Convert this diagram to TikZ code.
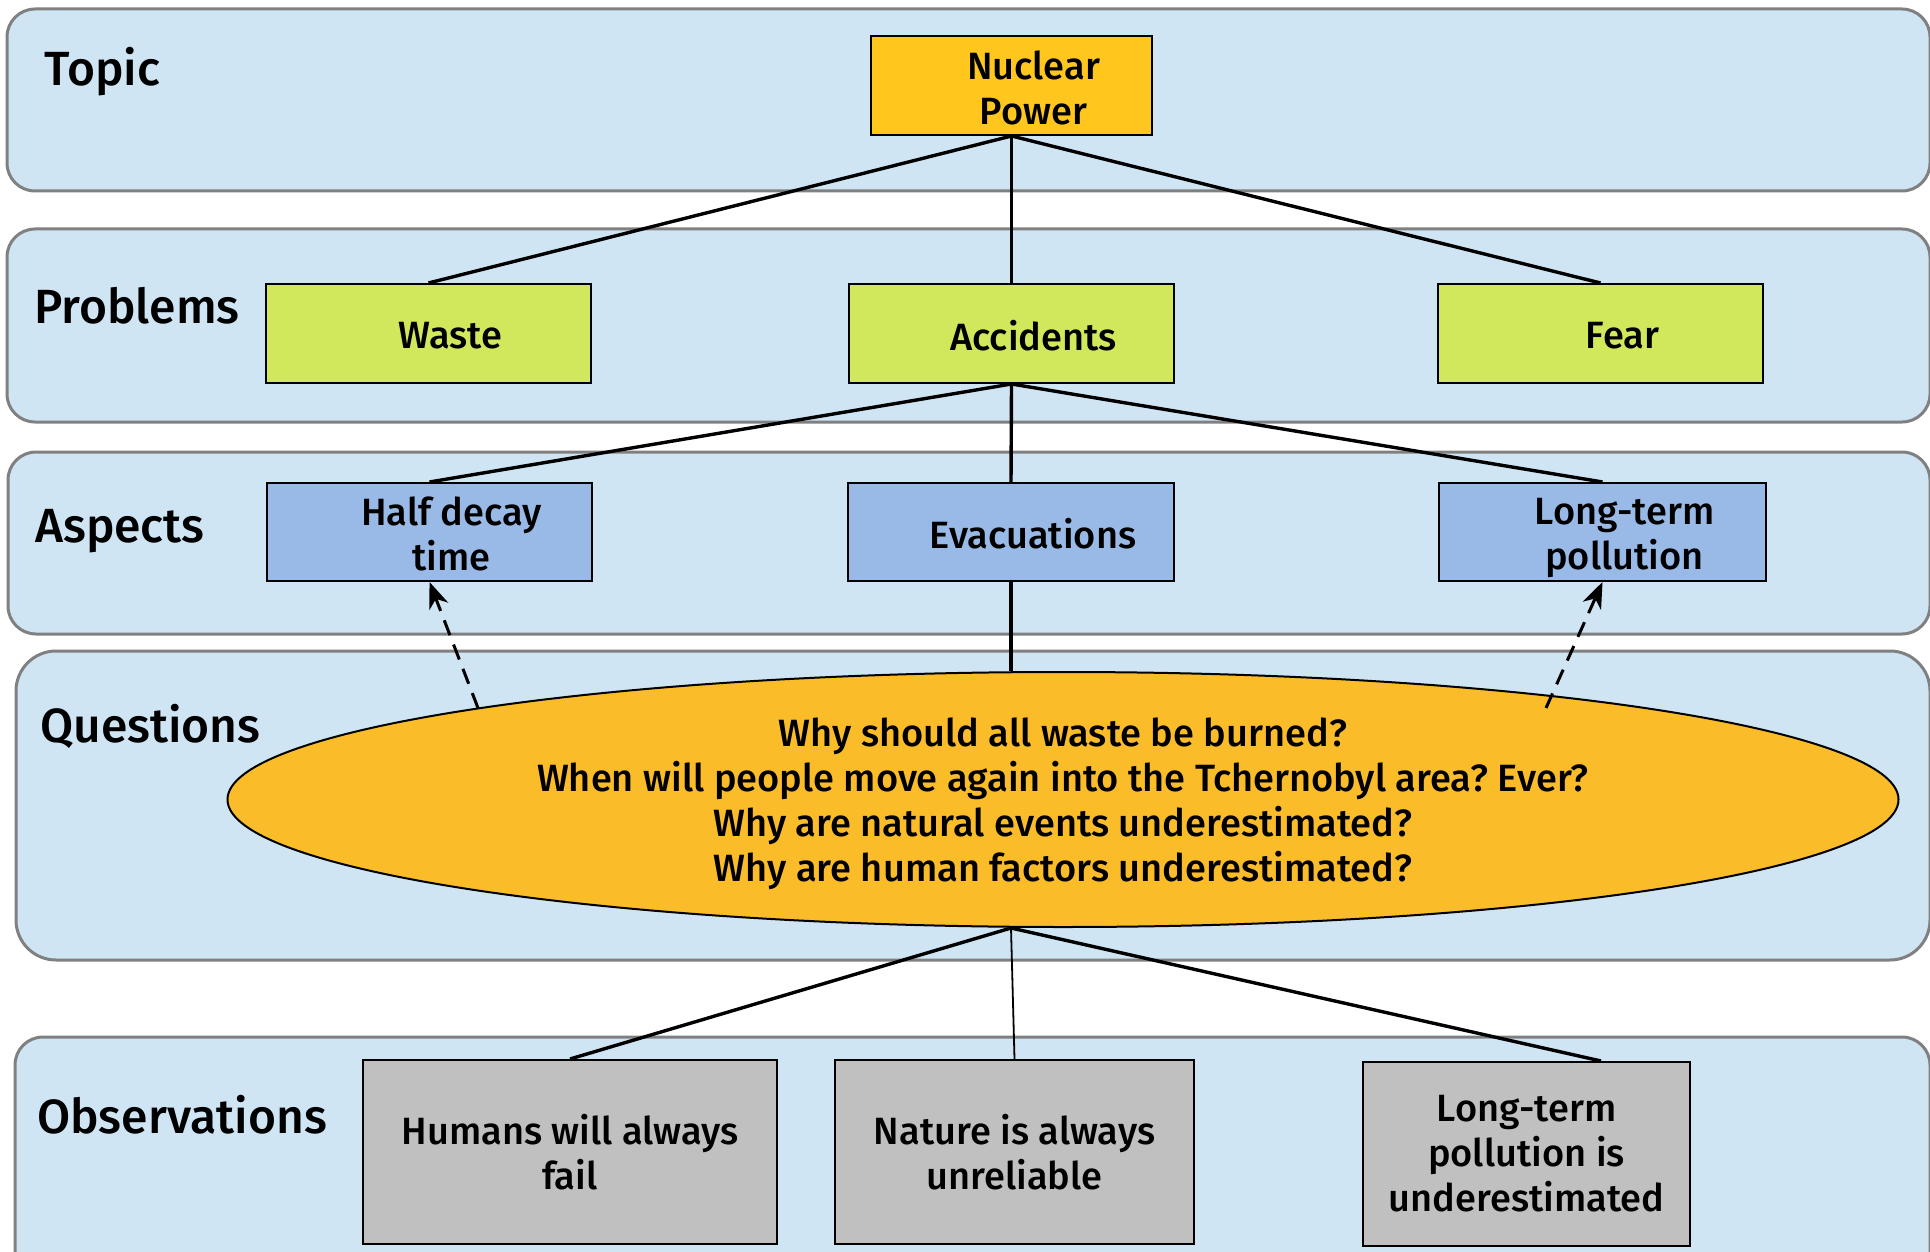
\documentclass[tikz,border=0pt]{standalone}
\usepackage{fontspec}
\setmainfont{Fira Sans}[UprightFont=* Medium]
\usetikzlibrary{arrows.meta,shapes.geometric,calc}

\definecolor{bandfill}{HTML}{CFE5F3}
\definecolor{bandline}{HTML}{808080}
\definecolor{topicfill}{HTML}{FFC71E}
\definecolor{probfill}{HTML}{D2E85C}
\definecolor{aspfill}{HTML}{99B9E7}
\definecolor{questfill}{HTML}{FBBC2A}
\definecolor{obsfill}{HTML}{C0C0C0}

\frenchspacing
\begin{document}
\begin{tikzpicture}[x=1pt,y=-1pt,
  band/.style={draw=bandline, fill=bandfill, line width=3pt, rounded corners=28pt},
  rowlabel/.style={anchor=base west, font=\fontsize{48}{56}\selectfont, inner sep=0pt},
  boxtext/.style={font=\fontsize{38}{45}\selectfont, align=center},
  box/.style={draw=black, line width=2pt, minimum width=325pt, minimum height=99pt, inner sep=0pt},
  shifted/.style={label={[boxtext, xshift=22pt, yshift=-2pt]center:{#1}}},
  shifteddeep/.style={label={[boxtext, xshift=22pt, yshift=-6pt]center:{#1}}},
  link/.style={line width=3.4pt},
  hint/.style={line width=3pt, dash pattern=on 16pt off 10pt,
    -{Stealth[length=26pt,width=20pt,inset=8pt]}}
]
\useasboundingbox (0,0) rectangle (1930,1252);
\clip (0,0) rectangle (1930,1252);

% layer bands
\draw[band] (7,9) rectangle (1930,191);
\draw[band] (7,229) rectangle (1930,422);
\draw[band] (8,452) rectangle (1930,634);
\draw[band, rounded corners=40pt] (16,651) rectangle (1930,960);
\draw[band] (15,1037) rectangle (1930,1290);

% layer names
\node[rowlabel] (lt) at (44,86) {Topic};
\node[rowlabel] (lp) at (34,323) {Problems};
\node[rowlabel] (la) at (35,542) {Aspects};
\node[rowlabel] (lq) at (40,742) {Questions};
\node[rowlabel] (lo) at (37,1133) {Observations};

% topic
\node[box, fill=topicfill, minimum width=281pt, shifted={Nuclear\\Power}] (np) at (1011.5,85.5) {};

% problems
\node[box, fill=probfill, shifted={Waste}] (waste) at (428.5,333.5) {};
\node[box, fill=probfill, shifted={Accidents}] (acc) at (1011.5,333.5) {};
\node[box, fill=probfill, shifted={Fear}] (fear) at (1600.5,333.5) {};

% aspects
\node[box, fill=aspfill, minimum height=98pt, shifted={Half decay\\time}] (half) at (429.5,532) {};
\node[box, fill=aspfill, minimum height=98pt, minimum width=326pt, shifted={Evacuations}] (evac) at (1011,532) {};
\node[box, fill=aspfill, minimum height=98pt, minimum width=327pt, shifteddeep={Long-term\\pollution}] (longt) at (1602.5,532) {};

% questions
\node[ellipse, draw=black, line width=2pt, fill=questfill, minimum width=1671pt,
  minimum height=255pt, inner sep=0pt, boxtext] (q) at (1063,799.5) {};
\node[boxtext, inner sep=0pt] (qtext) at ($(q.center)+(0,4)$)
  {Why should all waste be burned?\\
   When will people move again into the Tchernobyl area? Ever?\\
   Why are natural events underestimated?\\
   Why are human factors underestimated?};

% observations
\node[box, fill=obsfill, boxtext, minimum width=414pt, minimum height=184pt] (humans) at (570,1152)
  {Humans will always\\fail};
\node[box, fill=obsfill, boxtext, minimum width=359pt, minimum height=184pt] (nature) at (1014.5,1152)
  {Nature is always\\unreliable};
\node[box, fill=obsfill, boxtext, minimum width=327pt, minimum height=184pt] (ltp) at (1526.5,1154)
  {Long-term\\pollution is\\underestimated};

% tree connectors
\draw[link] (np.south) -- (waste.north);
\draw[link] (np.south) -- (acc.north);
\draw[link] (np.south) -- (fear.north);
\draw[link] (acc.south) -- (half.north);
\draw[link] (acc.south) -- (evac.north);
\draw[link] (acc.south) -- (longt.north);
\draw[link] (evac.south) -- (evac.south |- q.north);

\coordinate (qs) at (q.south -| evac.south);
\coordinate (ltpin) at ($(ltp.north east)+(-90,0)$);
\draw[link] (qs) -- (humans.north);
\draw[line width=1.8pt] (qs) -- (nature.north);
\draw[link] (qs) -- (ltpin);

% dashed hints from the questions
\coordinate (hq) at (478,708);
\coordinate (lq) at (1546,708);
\draw[hint] (hq) -- (half.south);
\draw[hint] (lq) -- (longt.south);
\end{tikzpicture}
\end{document}
